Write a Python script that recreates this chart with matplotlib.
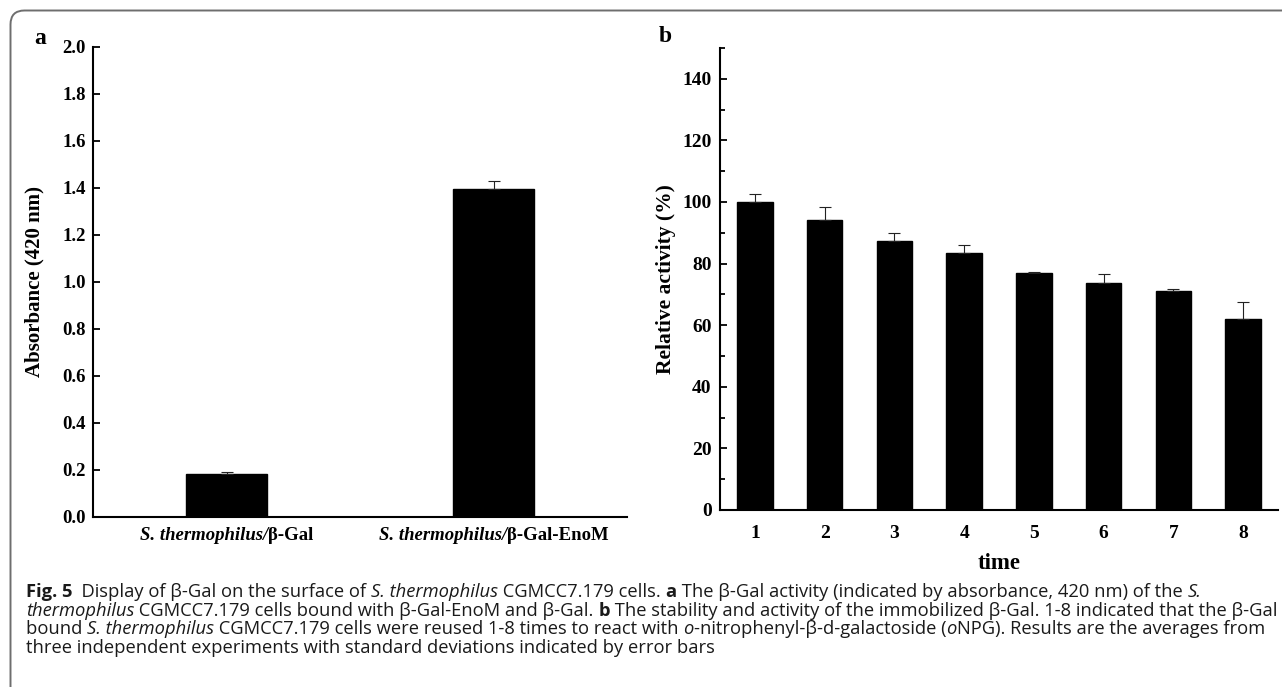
import matplotlib
matplotlib.use("Agg")
import matplotlib.pyplot as plt
from matplotlib.patches import FancyBboxPatch
from matplotlib.ticker import MultipleLocator, FormatStrFormatter

# panel a data
strains = [[("S. thermophilus/", "italic"), ("β-Gal", "normal")],
           [("S. thermophilus/", "italic"), ("β-Gal-EnoM", "normal")]]
absorb = [0.18, 1.395]
absorb_err = [0.01, 0.035]

# panel b data
times = [1, 2, 3, 4, 5, 6, 7, 8]
rel_act = [100.0, 94.0, 87.4, 83.3, 76.9, 73.8, 71.2, 62.1]
rel_err = [2.5, 4.4, 2.4, 2.7, 0.4, 2.8, 0.4, 5.4]

W, H = 1282, 687
plt.rcParams['font.family'] = 'Liberation Serif'
plt.rcParams['font.weight'] = 'bold'

fig = plt.figure(figsize=(W / 100, H / 100), dpi=100)
renderer = fig.canvas.get_renderer()

def fx(px):
    return px / W

def fy(py):
    return 1 - py / H

def seg_width(s, **kw):
    # width of a piece of text incl. leading/trailing spaces
    a = fig.text(0, 0, "x" + s + "x", **kw)
    b = fig.text(0, 0, "xx", **kw)
    w = a.get_window_extent(renderer).width - b.get_window_extent(renderer).width
    a.remove()
    b.remove()
    return w

# rounded frame, cut off at right and bottom
frame = FancyBboxPatch((0.105, -0.5), 14.0, 6.765 + 0.5,
                       boxstyle="round,pad=0,rounding_size=0.14",
                       transform=fig.dpi_scale_trans, fill=False,
                       edgecolor='#6e6e6e', linewidth=1.4)
fig.patches.append(frame)

# ---- panel a
axa = fig.add_axes([fx(93), fy(516.7), fx(627) - fx(93), fy(46.7) - fy(516.7)])
axa.bar(range(2), absorb, width=0.3, color='black', edgecolor='black',
        yerr=[[0, 0], absorb_err], capsize=4,
        error_kw=dict(elinewidth=0.8, capthick=0.8, ecolor='#222222'))
axa.set_xlim(-0.5, 1.5)
axa.set_ylim(0, 2.0)
axa.set_yticks([i * 0.2 for i in range(11)])
axa.yaxis.set_major_formatter(FormatStrFormatter('%.1f'))
axa.set_xticks(range(2))
axa.set_xticklabels([])
axa.tick_params(axis='y', direction='in', length=5, width=1.3, labelsize=13.5, pad=5)
axa.tick_params(axis='x', length=0)
axa.set_ylabel("Absorbance (420 nm)", fontsize=15, fontweight='bold', va='center')
axa.yaxis.set_label_coords(-0.109, 0.5)
for s in ['top', 'right']:
    axa.spines[s].set_visible(False)
for s in ['left', 'bottom']:
    axa.spines[s].set_linewidth(1.5)
fig.text(fx(40), fy(38), "a", fontsize=17, fontweight='bold', ha='center', va='center')

# category labels with mixed italic / upright parts
lab_font = dict(fontsize=13.5, fontweight='bold')
for pos, parts in zip(range(2), strains):
    cx = axa.transData.transform((pos, 0))[0]
    total = sum(seg_width(t, fontstyle=st, **lab_font) for t, st in parts)
    x = cx - total / 2
    for t, st in parts:
        fig.text(fx(x), fy(540), t, fontstyle=st, va='baseline', ha='left', **lab_font)
        x += seg_width(t, fontstyle=st, **lab_font)

# ---- panel b
axb = fig.add_axes([fx(720), fy(510), fx(1278) - fx(720), fy(48) - fy(510)])
axb.bar(times, rel_act, width=0.51, color='black', edgecolor='black',
        yerr=[[0] * len(rel_err), rel_err], capsize=4,
        error_kw=dict(elinewidth=0.8, capthick=0.8, ecolor='#222222'))
axb.set_xlim(0.5, 8.5)
axb.set_ylim(0, 150)
axb.set_yticks(range(0, 141, 20))
axb.yaxis.set_minor_locator(MultipleLocator(10))
axb.set_xticks(times)
axb.tick_params(axis='y', which='major', direction='in', length=5, width=1.3, labelsize=14, pad=6)
axb.tick_params(axis='y', which='minor', direction='in', length=3.5, width=1.3)
axb.tick_params(axis='x', length=0, labelsize=14, pad=11)
axb.set_ylabel("Relative activity (%)", fontsize=15.5, fontweight='bold', va='center')
axb.yaxis.set_label_coords(-0.096, 0.5)
axb.set_xlabel("time", fontsize=16.5, fontweight='bold', va='center')
axb.xaxis.set_label_coords(0.5, -0.115)
for s in ['top', 'right']:
    axb.spines[s].set_visible(False)
for s in ['left', 'bottom']:
    axb.spines[s].set_linewidth(1.5)
fig.text(fx(665), fy(37), "b", fontsize=17, fontweight='bold', ha='center', va='center')

# ---- caption, drawn piece by piece
cap_font = dict(family='Open Sans', fontsize=13.25, color='#1a1a1a')
N = dict(fontweight='normal', fontstyle='normal')
B = dict(fontweight='bold', fontstyle='normal')
I = dict(fontweight='normal', fontstyle='italic')

caption = [
    [("Fig. 5", B), ("  Display of β-Gal on the surface of ", N), ("S. thermophilus", I),
     (" CGMCC7.179 cells. ", N), ("a", B),
     (" The β-Gal activity (indicated by absorbance, 420 nm) of the ", N), ("S.", I)],
    [("thermophilus", I), (" CGMCC7.179 cells bound with β-Gal-EnoM and β-Gal. ", N), ("b", B),
     (" The stability and activity of the immobilized β-Gal. 1-8 indicated that the β-Gal", N)],
    [("bound ", N), ("S. thermophilus", I),
     (" CGMCC7.179 cells were reused 1-8 times to react with ", N), ("o", I),
     ("-nitrophenyl-β-d-galactoside (", N), ("o", I), ("NPG). Results are the averages from", N)],
    [("three independent experiments with standard deviations indicated by error bars", N)],
]

for i, line in enumerate(caption):
    x = 26
    y = 597 + i * 18.7
    for txt, style in line:
        fig.text(fx(x), fy(y), txt, va='baseline', ha='left', **cap_font, **style)
        x += seg_width(txt, **cap_font, **style)

fig.savefig("out.png", dpi=100)
